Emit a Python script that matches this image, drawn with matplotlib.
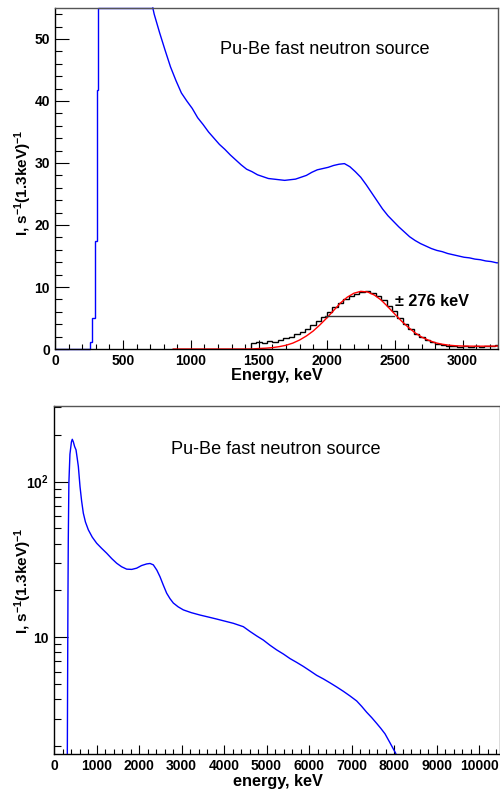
import numpy as np
import matplotlib
matplotlib.use("Agg")
from matplotlib import pyplot as plt
from matplotlib.ticker import MultipleLocator, LogLocator, NullFormatter

plt.rcParams['font.family'] = ['Liberation Sans', 'DejaVu Sans']
plt.rcParams['font.weight'] = 'bold'
plt.rcParams['axes.labelweight'] = 'bold'
plt.rcParams['mathtext.fontset'] = 'custom'
plt.rcParams['mathtext.rm'] = 'Liberation Sans:bold'
plt.rcParams['mathtext.bf'] = 'Liberation Sans:bold'
plt.rcParams['mathtext.it'] = 'Liberation Sans:bold'

# top panel: threshold rise (histogram bins), then the off-scale plateau at 55
rise_edges = [0, 258, 275, 295, 307, 319, 720]
rise_rate = [0.0, 1.1, 5.0, 17.4, 41.7, 55.0]

# top panel: rest of the spectrum, linear scale
top_e = [720] + list(range(730, 3251, 40)) + [3260]
top_rate = [55.0,
            54.0, 51.0, 48.2, 45.5, 43.3, 41.3, 40.0, 38.8, 37.3, 36.2,
            35.0, 34.0, 33.0, 32.2, 31.3, 30.5, 29.7, 29.0, 28.6, 28.1,
            27.8, 27.5, 27.4, 27.3, 27.2, 27.3, 27.4, 27.7, 28.0, 28.5,
            28.9, 29.1, 29.3, 29.6, 29.8, 29.9, 29.4, 28.6, 27.7, 26.5,
            25.2, 23.9, 22.6, 21.5, 20.6, 19.7, 18.9, 18.1, 17.5, 17.0,
            16.6, 16.2, 15.9, 15.7, 15.4, 15.2, 15.0, 14.8, 14.7, 14.5,
            14.4, 14.2, 14.1, 13.9, 13.9]

# 2.2 MeV peak after background subtraction
peak_edges = list(range(1440, 3241, 40)) + [3260]
peak_rate = [0.9, 1.2, 1.0, 1.3, 1.2, 1.5, 1.7, 2.0, 2.4, 2.8,
             3.3, 3.8, 4.5, 5.2, 5.9, 6.7, 7.5, 8.0, 8.6, 8.9,
             9.2, 9.4, 9.1, 8.6, 7.9, 7.0, 6.1, 5.0, 4.1, 3.2,
             2.5, 1.9, 1.4, 1.1, 0.8, 0.6, 0.5, 0.5, 0.4, 0.5,
             0.4, 0.5, 0.4, 0.5, 0.5, 0.7]

# gaussian fit curve
fit_e = [870, 1000, 1100, 1200, 1300, 1400, 1450, 1500, 1550, 1600, 1650, 1700,
         1750, 1800, 1850, 1900, 1950, 2000, 2050, 2100, 2150, 2200, 2250, 2300,
         2350, 2400, 2450, 2500, 2550, 2600, 2650, 2700, 2750, 2800, 2850, 2900,
         2950, 3000, 3100, 3200, 3260]
fit_rate = [0.0, 0.0, 0.0, 0.0, 0.0, 0.0, 0.01, 0.08, 0.13, 0.22, 0.38, 0.6,
            0.95, 1.45, 2.1, 2.9, 3.9, 5.0, 6.2, 7.4, 8.35, 9.0, 9.3, 9.2,
            8.7, 7.9, 6.8, 5.65, 4.5, 3.5, 2.6, 1.9, 1.4, 1.0, 0.77, 0.61,
            0.52, 0.48, 0.45, 0.46, 0.47]
fwhm_e = [1985, 2493]
fwhm_level = 5.4

# bottom panel: full spectrum, log scale
low_e = [310, 320, 328, 336, 350, 375, 410, 430, 455, 485, 518, 545, 573, 612,
         650, 690, 740, 808, 900, 1004, 1120, 1239, 1360, 1475, 1590, 1710,
         1830, 1945, 2060, 2180, 2260, 2337, 2420, 2494, 2570, 2651, 2730,
         2808, 2920, 3043, 3230, 3435, 3630, 3827, 4020, 4220, 4455, 4612,
         4770, 4925, 5080, 5239, 5400, 5553, 5710, 5867, 6020, 6180, 6340,
         6494, 6650, 6808, 6965, 7122, 7240, 7357, 7475, 7592, 7690, 7788,
         7906, 8039, 8120]
low_rate = [1.0, 5.1, 17.4, 42, 98, 150, 180, 187, 180, 168, 160, 142, 125, 93,
            75, 62.7, 55, 49, 44, 40.2, 37.3, 34.7, 32.0, 29.9, 28.4, 27.4,
            27.3, 27.8, 28.9, 29.6, 29.8, 29.2, 27.0, 24.5, 21.7, 19.2, 17.7,
            16.6, 15.7, 15.0, 14.4, 13.9, 13.5, 13.1, 12.7, 12.3, 11.7, 10.9,
            10.2, 9.6, 8.9, 8.3, 7.8, 7.3, 6.9, 6.5, 6.1, 5.7, 5.4,
            5.1, 4.8, 4.5, 4.2, 3.9, 3.6, 3.3, 3.05, 2.8, 2.6, 2.4,
            2.1, 1.8, 1.5]

title = "Pu-Be fast neutron source"
ylab = r"I, s$^{-1}$(1.3keV)$^{-1}$"


def style_axes(ax):
    for s in ['left', 'bottom']:
        ax.spines[s].set_color('black')
        ax.spines[s].set_linewidth(1.0)
    for s in ['top', 'right']:
        ax.spines[s].set_color('#555555')
        ax.spines[s].set_linewidth(1.0)
    ax.tick_params(which='both', direction='in', top=False, right=False,
                   labelsize=10, pad=3.6, width=0.8)
    ax.tick_params(axis='y', which='major', length=10)
    ax.tick_params(axis='y', which='minor', length=5)
    ax.tick_params(axis='x', which='major', length=6.5)
    ax.tick_params(axis='x', which='minor', length=3.6)


fig = plt.figure(figsize=(5.0, 7.89), dpi=100)
W, H = 500.0, 789.0

# ---- top panel
ax1 = fig.add_axes([55 / W, 1 - 349 / H, 443 / W, 341 / H])
ax1.stairs(rise_rate, rise_edges, color='#0000ff', lw=1.0, baseline=None, clip_on=False)
ax1.plot(top_e, top_rate, color='#0000ff', lw=1.0, clip_on=False)
ax1.stairs(peak_rate, peak_edges, color='black', lw=1.0, baseline=0)
ax1.plot(fit_e, fit_rate, color='#ff0000', lw=1.0)
ax1.plot(fwhm_e, [fwhm_level, fwhm_level], color='#333333', lw=1.0)
ax1.set_xlim(0, 3260)
ax1.set_ylim(0, 55)
ax1.xaxis.set_major_locator(MultipleLocator(500))
ax1.xaxis.set_minor_locator(MultipleLocator(100))
ax1.yaxis.set_major_locator(MultipleLocator(10))
ax1.yaxis.set_minor_locator(MultipleLocator(2))
style_axes(ax1)
ax1.set_xlabel("Energy, keV", fontsize=11.7, fontweight='bold')
ax1.xaxis.set_label_coords(0.5, -0.078)
ax1.xaxis.label.set_va('center')
ax1.set_ylabel(ylab, fontsize=11, fontweight='bold')
ax1.yaxis.set_label_coords(-0.071, 0.487)
ax1.yaxis.label.set_va('center')
fig.text(220 / W, 1 - 50 / H, title, fontsize=13.1, fontweight='normal', va='center')
fig.text(395 / W, 1 - 301.5 / H, u"\u00b1 276 keV", fontsize=11.7, va='center')

# ---- bottom panel
ax2 = fig.add_axes([54 / W, 1 - 754 / H, 446 / W, 348 / H])
ax2.plot(low_e, low_rate, color='#0000ff', lw=1.0)
ax2.set_yscale('log')
ax2.set_xlim(0, 10494)
ax2.set_ylim(1.78, 306)
ax2.xaxis.set_major_locator(MultipleLocator(1000))
ax2.xaxis.set_minor_locator(MultipleLocator(200))
ax2.set_yticks([10, 100], ['10', r'$10^{2}$'])
ax2.yaxis.set_minor_locator(LogLocator(base=10, subs=np.arange(2, 10)))
ax2.yaxis.set_minor_formatter(NullFormatter())
style_axes(ax2)
ax2.set_xlabel("energy, keV", fontsize=11.7, fontweight='bold')
ax2.xaxis.set_label_coords(0.501, -0.08)
ax2.xaxis.label.set_va('center')
ax2.set_ylabel(ylab, fontsize=11, fontweight='bold')
ax2.yaxis.set_label_coords(-0.07, 0.497)
ax2.yaxis.label.set_va('center')
fig.text(171 / W, 1 - 449 / H, title, fontsize=13.1, fontweight='normal', va='center')

fig.savefig("out.png", dpi=100)
